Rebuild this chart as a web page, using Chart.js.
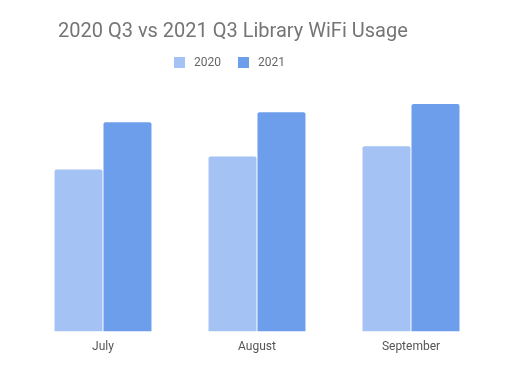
<!DOCTYPE html>
<html lang="en">
<head>
    <meta charset="UTF-8">
    <title>2020 Q3 vs 2021 Q3 Library WiFi Usage</title>
    <style type="text/css">
        body{ margin:0; background:#fff; }
        .chartBox{ width:532px; height:370px; }
    </style>
</head>
<body>

<div class="chartBox">
    <canvas id="myChart" width="532" height="370"></canvas>
</div>

<script src="https://cdn.jsdelivr.net/npm/chart.js"></script>
<script>
    const chartTitle = '2020 Q3 vs 2021 Q3 Library WiFi Usage';
    const months = ['July', 'August', 'September'];
    const seriesNames = ['2020', '2021'];
    const usage2020 = [1610, 1740, 1840];
    const usage2021 = [2080, 2180, 2260];
    const colors = ['#a4c2f4', '#6d9eeb'];

    // title + legend drawn by hand so they sit where the original has them
    const headerPlugin = {
        id: 'header',
        afterDraw(chart) {
            const ctx = chart.ctx;
            ctx.save();
            ctx.textBaseline = 'middle';
            ctx.textAlign = 'left';
            ctx.fillStyle = '#757575';
            ctx.font = '20px Roboto';
            ctx.fillText(chartTitle, 58, 32);

            ctx.font = '12px Roboto';
            let x = 174;
            chart.data.datasets.forEach(ds => {
                ctx.fillStyle = ds.backgroundColor;
                ctx.fillRect(x, 57, 11, 11);
                ctx.fillStyle = '#666666';
                ctx.fillText(ds.label, x + 20, 63);
                x += 20 + ctx.measureText(ds.label).width + 17;
            });
            ctx.restore();
        }
    };

    const ctx = document.getElementById('myChart').getContext('2d');
    const myChart = new Chart(ctx, {
        type: 'bar',
        data: {
            labels: months,
            datasets: [{
                label: seriesNames[0],
                data: usage2020,
                backgroundColor: colors[0]
            }, {
                label: seriesNames[1],
                data: usage2021,
                backgroundColor: colors[1]
            }]
        },
        options: {
            responsive: false,
            animation: false,
            layout: { padding: { top: 90, left: 26, right: 44, bottom: 16 } },
            datasets: {
                bar: {
                    categoryPercentage: 0.636,
                    barPercentage: 0.98,
                    borderRadius: { topLeft: 2, topRight: 2 },
                    borderSkipped: 'bottom'
                }
            },
            plugins: {
                legend: { display: false },
                title: { display: false },
                tooltip: { enabled: false }
            },
            scales: {
                x: {
                    grid: { display: false },
                    border: { display: false },
                    ticks: { color: '#555555', font: { family: 'Roboto', size: 12 }, padding: 0 }
                },
                y: {
                    display: false,
                    min: 0,
                    max: 2400
                }
            }
        },
        plugins: [headerPlugin]
    });
</script>

</body>
</html>
